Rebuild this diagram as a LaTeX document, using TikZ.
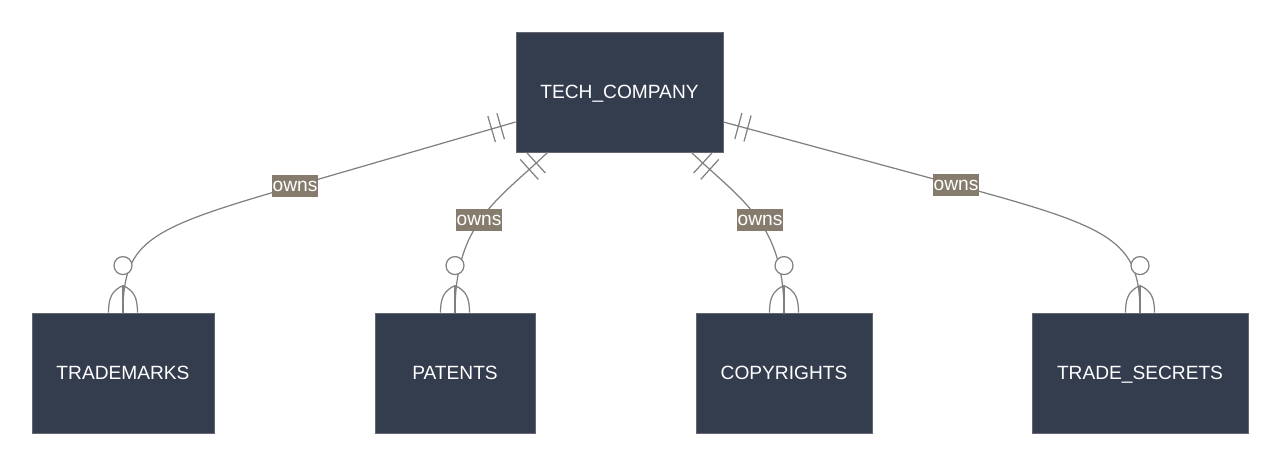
\documentclass[tikz,border=0pt]{standalone}
\usepackage{fontspec}
\setmainfont{Liberation Sans}
\usetikzlibrary{calc,decorations.markings}

\definecolor{entfill}{RGB}{51,61,78}
\definecolor{entline}{RGB}{100,102,112}
\definecolor{relline}{RGB}{128,128,128}
\definecolor{lblfill}{RGB}{134,124,110}

\tikzset{
  entity/.style={draw=entline, fill=entfill, line width=0.5pt, text=white,
    minimum height=2.4cm, text height=7.8pt, text depth=0pt,
    font=\fontsize{10.9}{12}\selectfont},
  rel/.style={draw=relline, line width=0.7pt},
  lbl/.style={fill=lblfill, text=white, inner sep=0pt, minimum width=0.92cm,
    minimum height=0.44cm, font=\fontsize{10.9}{12}\selectfont},
  oneone/.style={postaction={decorate}, decoration={markings,
    mark=at position 0.31cm with {\draw[rel] (0,-13.5) -- (0,13.5);},
    mark=at position 0.50cm with {\draw[rel] (0,-13.5) -- (0,13.5);}}}
}

% zero or more, at the top of an entity
\newcommand{\zeromany}[1]{
  \draw[rel] ($(#1.north)+(0,-27)$) -- (#1.north);
  \draw[rel] ($(#1.north)+(0,-27)$) .. controls +(-11,5) and +(0,-15) .. ($(#1.north)+(-14.5,0)$);
  \draw[rel] ($(#1.north)+(0,-27)$) .. controls +(11,5) and +(0,-15) .. ($(#1.north)+(14.5,0)$);
  \draw[rel, fill=white] ($(#1.north)+(0,-47)$) circle[radius=9];
}

\begin{document}
\begin{tikzpicture}[x=0.02cm, y=-0.02cm]
  \useasboundingbox (0,0) rectangle (1280,466);

  \node[entity, minimum width=4.14cm] (tc) at (619.5,92) {TECH\_COMPANY};
  \node[entity, minimum width=3.64cm] (tm) at (123,373) {TRADEMARKS};
  \node[entity, minimum width=3.2cm]  (pt) at (455,373) {PATENTS};
  \node[entity, minimum width=3.52cm] (cr) at (784,373) {COPYRIGHTS};
  \node[entity, minimum width=4.32cm] (ts) at (1140,373) {TRADE\_SECRETS};

  \coordinate (s1) at ($(tc.west)+(0,30)$);
  \coordinate (s2) at ($(tc.south west)+(32,0)$);
  \coordinate (s3) at ($(tc.south east)+(-32,0)$);
  \coordinate (s4) at ($(tc.east)+(0,30)$);
  \coordinate (m1) at (295,186);
  \coordinate (m4) at (956,185);

  % relationships
  \draw[rel, oneone] (s1) -- (m1) .. controls +(-145,42) and +(0,-73) .. (tm.north);
  \draw[rel, oneone] (s2) .. controls +(-50,48) and +(0,-90) .. (pt.north);
  \draw[rel, oneone] (s3) .. controls +(50,48) and +(0,-90) .. (cr.north);
  \draw[rel, oneone] (s4) -- (m4) .. controls +(155,42) and +(0,-73) .. (ts.north);

  \zeromany{tm}
  \zeromany{pt}
  \zeromany{cr}
  \zeromany{ts}

  \node[lbl] (l1) at (m1) {owns};
  \node[lbl] (l2) at (479,220) {owns};
  \node[lbl] (l3) at (760,220) {owns};
  \node[lbl] (l4) at (m4) {owns};
\end{tikzpicture}
\end{document}
